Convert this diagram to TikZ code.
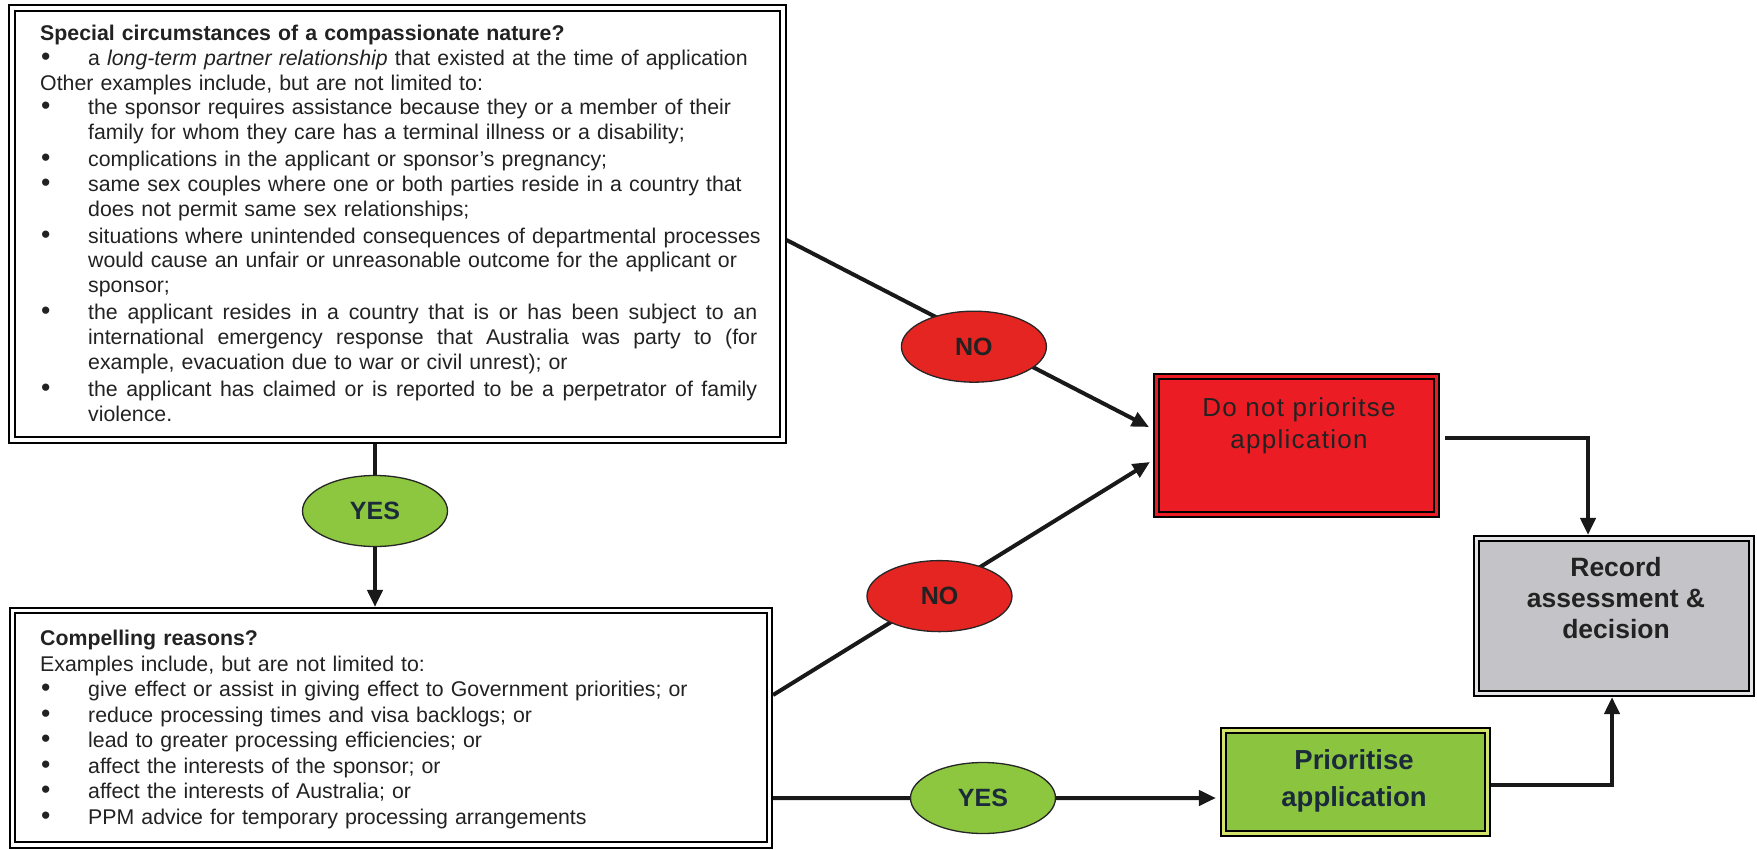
\documentclass[tikz,border=0pt]{standalone}
\usepackage{fontspec}
\setmainfont{Liberation Sans}
\newfontfamily\spacedfont[LetterSpace=5]{Liberation Sans}
\usetikzlibrary{arrows.meta,shapes.geometric}
\definecolor{boxred}{HTML}{EC1C24}
\definecolor{ellred}{HTML}{E52521}
\definecolor{ellgreen}{HTML}{8DC63F}
\definecolor{boxgreen}{HTML}{8BC53F}
\definecolor{gapgreen}{HTML}{D4E36C}
\definecolor{boxgray}{HTML}{C4C4C8}
\definecolor{gapgray}{HTML}{E4E4E6}
\definecolor{txt}{HTML}{222222}
\definecolor{navy}{HTML}{1B2A3A}
\newcommand\bulx{\makebox[48bp][l]{\hspace*{1bp}\scalebox{1.25}{\textbullet}}}
\newcommand\indx{\hspace*{48bp}}
\newcommand\justx[1]{\begingroup\spaceskip=0.25em plus 1em minus 0.05em\relax\makebox[669bp][s]{#1}\endgroup}
\hyphenpenalty=10000
\exhyphenpenalty=10000
\begin{document}
\begin{tikzpicture}[x=1bp,y=-1bp,
  frame/.style={draw=black, line width=1.8bp, double=white, double distance=3.5bp, inner sep=0pt, outer sep=3.55bp},
  bodytext/.style={anchor=north west, inner sep=0pt, text width=740bp, align=left, text=txt},
  ell/.style={ellipse, draw=black!85, line width=1.3bp, minimum width=145bp, minimum height=71bp, inner sep=0pt, font=\fontsize{25bp}{25bp}\selectfont\bfseries},
  noell/.style={ell, fill=ellred, text=txt},
  yesell/.style={ell, fill=ellgreen, text=navy},
  conn/.style={line width=4bp, draw=black!90},
  arr/.style={conn, -{Triangle[length=17bp,width=15bp]}}
]
\useasboundingbox (0,0) rectangle (1757,850);
\fill[white] (0,0) rectangle (1757,850);

% boxes
\node[frame, minimum width=771bp, minimum height=432bp] (circ) at (397.5,224) {};
\node[frame, minimum width=757bp, minimum height=234.5bp] (comp) at (391,727.75) {};
\node[frame, fill=boxred, double=boxred, minimum width=280bp, minimum height=138bp] (red) at (1296.5,445.5) {};
\node[frame, fill=boxgray, double=gapgray, minimum width=275bp, minimum height=155bp] (gray) at (1614,616) {};
\node[frame, fill=boxgreen, double=gapgreen, minimum width=264bp, minimum height=103bp] (green) at (1355.5,782) {};

% box texts
\node[bodytext, font=\fontsize{21.3bp}{24.7bp}\selectfont] (circtxt) at (40,25) {%
\textbf{Special circumstances of a compassionate nature?}\\
\bulx a \textit{long-term partner relationship} that existed at the time of application\\
Other examples include, but are not limited to:\\
\bulx the sponsor requires assistance because they or a member of their\\
\indx family for whom they care has a terminal illness or a disability;\\[2.5bp]
\bulx complications in the applicant or sponsor's pregnancy;\\
\bulx same sex couples where one or both parties reside in a country that\\
\indx does not permit same sex relationships;\\[2.5bp]
\bulx\mbox{situations where unintended consequences of departmental processes}\\
\indx would cause an unfair or unreasonable outcome for the applicant or\\
\indx sponsor;\\[2.5bp]
\bulx\justx{the applicant resides in a country that is or has been subject to an}\\
\indx\justx{international emergency response that Australia was party to (for}\\
\indx example, evacuation due to war or civil unrest); or\\[2.5bp]
\bulx\justx{the applicant has claimed or is reported to be a perpetrator of family}\\
\indx violence.};

\node[bodytext, font=\fontsize{21.3bp}{25.5bp}\selectfont] (comptxt) at (40,630) {%
\textbf{Compelling reasons?}\\
Examples include, but are not limited to:\\
\bulx give effect or assist in giving effect to Government priorities; or\\
\bulx reduce processing times and visa backlogs; or\\
\bulx lead to greater processing efficiencies; or\\
\bulx affect the interests of the sponsor; or\\
\bulx affect the interests of Australia; or\\
\bulx PPM advice for temporary processing arrangements};

\node[font=\spacedfont\fontsize{26bp}{32bp}\selectfont, text=txt, align=center] (redtxt) at (1299,426) {Do not prioritse\\application};
\node[font=\bfseries\fontsize{27.5bp}{37bp}\selectfont, text=navy, align=center] (greentxt) at (1354,781) {Prioritise\\application};
\node[font=\bfseries\fontsize{26.5bp}{31bp}\selectfont, text=txt, align=center] (graytxt) at (1616,598.5) {Record\\assessment \&\\decision};

% connectors
\node[yesell] (yes1) at (375,511) {YES};
\draw[conn] (yes1 |- circ.south) -- (yes1);
\draw[arr] (yes1) -- (yes1 |- comp.north);

\draw[arr] ([yshift=-16bp]circ.east) -- node[noell, pos=0.517, yshift=-10bp] (no1) {NO} ([xshift=-4bp,yshift=18.5bp]red.west);
\draw[arr] ([yshift=32.75bp]comp.east) -- node[noell, pos=0.4416, yshift=-4bp] (no2) {NO} ([xshift=-3bp,yshift=-16.5bp]red.west);
\draw[arr] ([yshift=-70.25bp]comp.east) -- node[yesell, pos=0.474] (yes2) {YES} ([xshift=-4bp,yshift=-16bp]green.west);

\draw[arr] ([xshift=5bp,yshift=7.5bp]red.east) -| ([xshift=-26bp]gray.north);
\draw[arr] ([yshift=-3bp]green.east) -| ([xshift=-2bp]gray.south);
\end{tikzpicture}
\end{document}
